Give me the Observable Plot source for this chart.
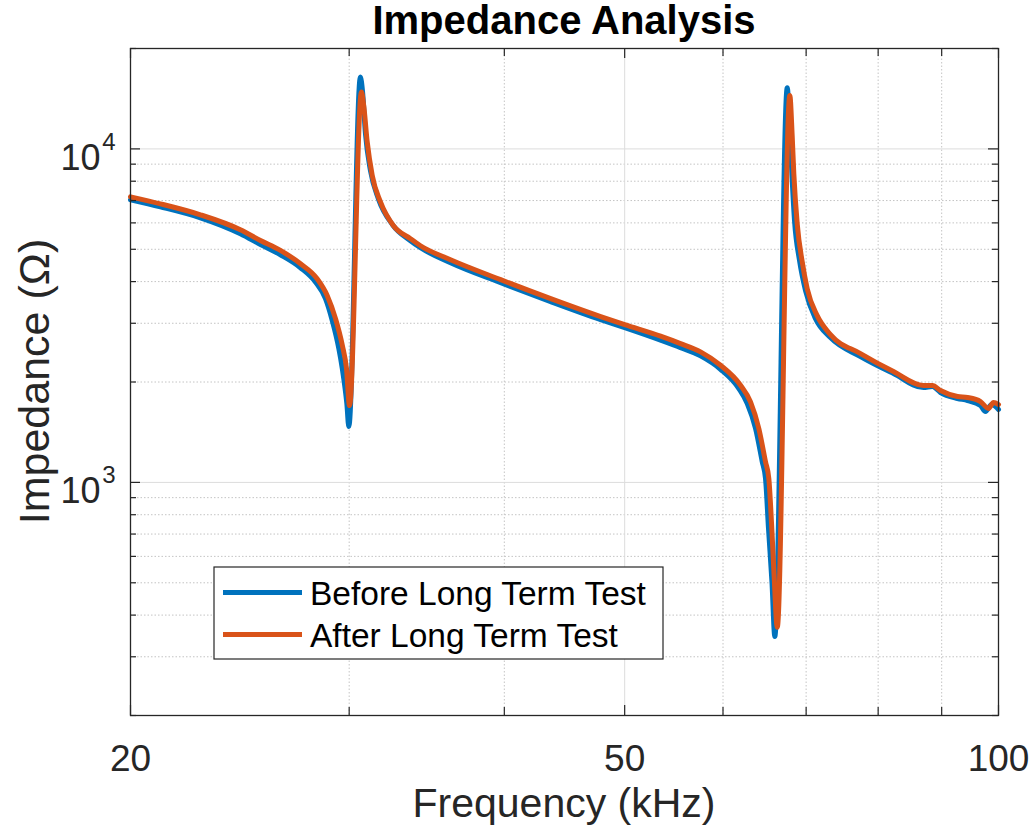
<!DOCTYPE html>
<html>
<head>
<meta charset="utf-8">
<script src="https://cdn.jsdelivr.net/npm/d3@7"></script>
<script src="https://cdn.jsdelivr.net/npm/@observablehq/plot@0.6"></script>
<style>
  html, body { margin: 0; padding: 0; background: white; }
  #chart svg { display: block; }
</style>
</head>
<body>
<div id="chart"></div>
<script>
// ---- data ----
const freqBefore = [20.00, 21.14, 22.77, 24.52, 25.45, 26.41, 27.41, 28.18, 28.71, 29.07, 29.43, 29.62, 29.70, 29.87, 29.98, 30.63, 30.75, 30.92, 31.21, 31.67, 32.51, 33.61, 34.24, 36.20, 39.73, 43.59, 47.82, 50.00, 53.44, 55.45, 57.55, 59.72, 61.79, 62.76, 63.73, 64.52, 64.92, 65.28, 65.71, 66.05, 67.59, 67.88, 68.13, 68.51, 69.15, 69.92, 71.23, 73.23, 77.42, 82.31, 87.02, 88.48, 89.80, 92.68, 94.42, 96.72, 97.62, 98.71, 100.0];
const zBefore = [7035, 6702, 6214, 5566, 5170, 4815, 4403, 3989, 3555, 3061, 2519, 2194, 2048, 1724, 1471, 16430, 14920, 11090, 8594, 7084, 5924, 5304, 5053, 4557, 3970, 3483, 3076, 2912, 2671, 2537, 2395, 2184, 1911, 1724, 1451, 1156, 1028, 728, 498, 345, 15260, 11880, 8834, 6088, 4620, 3757, 3097, 2717, 2384, 2120, 1925, 1938, 1860, 1785, 1760, 1700, 1632, 1712, 1654];

const freqAfter = [20.00, 21.14, 22.77, 24.52, 25.45, 26.41, 27.41, 28.27, 28.80, 29.25, 29.62, 29.85, 30.02, 30.69, 30.82, 31.02, 31.31, 31.79, 32.57, 33.61, 34.24, 36.20, 39.73, 43.59, 47.82, 50.00, 53.44, 55.45, 57.55, 59.72, 61.98, 63.14, 64.12, 64.92, 65.32, 65.65, 65.95, 66.35, 67.91, 68.21, 68.42, 68.85, 69.49, 70.14, 71.45, 73.23, 77.42, 82.31, 87.02, 88.48, 89.80, 92.68, 94.42, 96.72, 98.16, 99.08, 100.0];
const zAfter = [7183, 6843, 6344, 5722, 5314, 4960, 4526, 4081, 3637, 3097, 2577, 2194, 1700, 14815, 13480, 10495, 8320, 6938, 5883, 5377, 5124, 4652, 4053, 3555, 3141, 2972, 2745, 2608, 2462, 2245, 1956, 1744, 1451, 1153, 1028, 754, 534, 368, 14470, 10970, 8416, 5964, 4588, 3809, 3162, 2774, 2433, 2149, 1952, 1952, 1886, 1809, 1797, 1748, 1666, 1736, 1712];

const seriesNames = ["Before Long Term Test", "After Long Term Test"];
const seriesColors = ["#0072BD", "#D95319"];

const xTickValues = [20, 50, 100];
const xTickLabels = ["20", "50", "100"];
const xMinorValues = [30, 40, 60, 70, 80, 90];
const yTickValues = [1000, 10000];
const yTickBase = ["10", "10"];
const yTickExp = ["3", "4"];
const yMinorValues = [200, 300, 400, 500, 600, 700, 800, 900, 2000, 3000, 4000, 5000, 6000, 7000, 8000, 9000, 20000];

const titleText = "Impedance Analysis";
const xLabel = "Frequency (kHz)";
const yLabel = "Impedance (\u03A9)";

// ---- layout ----
const W = 1032, H = 829;
const mL = 130, mR = 34, mT = 48, mB = 114;
const PW = W - mL - mR, PH = H - mT - mB;
const axisColor = "#262626";
const font = "'Liberation Sans', Arial, Helvetica, sans-serif";

const before = freqBefore.map((f, i) => ({f, z: zBefore[i]}));
const after = freqAfter.map((f, i) => ({f, z: zAfter[i]}));

const chart = Plot.plot({
  width: W, height: H,
  marginLeft: mL, marginRight: mR, marginTop: mT, marginBottom: mB,
  style: {fontFamily: font, background: "white", overflow: "visible"},
  x: {type: "log", domain: [20, 100], axis: null},
  y: {type: "log", domain: [200, 20000], axis: null},
  marks: [
    // grid
    Plot.ruleY(yMinorValues, {stroke: "#c4c4c4", strokeWidth: 1, strokeDasharray: "1.5,2"}),
    Plot.ruleX(xMinorValues, {stroke: "#c4c4c4", strokeWidth: 1, strokeDasharray: "1.5,2"}),
    Plot.ruleY(yTickValues, {stroke: "#dcdcdc", strokeWidth: 1}),
    Plot.ruleX(xTickValues, {stroke: "#dcdcdc", strokeWidth: 1}),
    // data
    Plot.line(before, {x: "f", y: "z", stroke: seriesColors[0], strokeWidth: 5, curve: "monotone-x"}),
    Plot.line(after, {x: "f", y: "z", stroke: seriesColors[1], strokeWidth: 5, curve: "monotone-x"}),
    // box
    Plot.frame({stroke: axisColor, strokeWidth: 1.3}),
    // inward ticks: left/right
    Plot.ruleY(yMinorValues, {stroke: axisColor, strokeWidth: 1.2, insetRight: PW - 6}),
    Plot.ruleY(yMinorValues, {stroke: axisColor, strokeWidth: 1.2, insetLeft: PW - 6}),
    Plot.ruleY(yTickValues, {stroke: axisColor, strokeWidth: 1.2, insetRight: PW - 10}),
    Plot.ruleY(yTickValues, {stroke: axisColor, strokeWidth: 1.2, insetLeft: PW - 10}),
    // inward ticks: bottom/top
    Plot.ruleX(xMinorValues, {stroke: axisColor, strokeWidth: 1.2, insetTop: PH - 8}),
    Plot.ruleX(xMinorValues, {stroke: axisColor, strokeWidth: 1.2, insetBottom: PH - 8}),
    Plot.ruleX(xTickValues, {stroke: axisColor, strokeWidth: 1.2, insetTop: PH - 10}),
    Plot.ruleX(xTickValues, {stroke: axisColor, strokeWidth: 1.2, insetBottom: PH - 10}),
    // tick labels
    Plot.text(xTickValues, {x: d => d, text: (d, i) => xTickLabels[i], frameAnchor: "bottom", lineAnchor: "bottom", dy: 55, fontSize: 37, fill: axisColor, textAnchor: "middle"}),
    Plot.text(yTickValues, {y: d => d, text: (d, i) => yTickBase[i], frameAnchor: "left", textAnchor: "end", lineAnchor: "bottom", dx: -30, dy: 21, fontSize: 36, fill: axisColor}),
    Plot.text(yTickValues, {y: d => d, text: (d, i) => yTickExp[i], frameAnchor: "left", textAnchor: "end", lineAnchor: "bottom", dx: -15, dy: 1, fontSize: 24, fill: axisColor})
  ]
});

const svg = d3.select(chart);

// title
svg.append("text")
  .attr("x", mL + PW / 2).attr("y", 34)
  .attr("text-anchor", "middle")
  .attr("font-family", font).attr("font-weight", "bold").attr("font-size", 40)
  .attr("fill", "#000")
  .text(titleText);

// axis labels
svg.append("text")
  .attr("x", mL + PW / 2).attr("y", 817)
  .attr("text-anchor", "middle")
  .attr("font-family", font).attr("font-size", 41)
  .attr("fill", axisColor)
  .text(xLabel);

svg.append("text")
  .attr("transform", `translate(49,${mT + PH / 2}) rotate(-90)`)
  .attr("text-anchor", "middle")
  .attr("font-family", font).attr("font-size", 43)
  .attr("fill", axisColor)
  .text(yLabel);

// legend
const lg = svg.append("g").attr("aria-label", "legend");
lg.append("rect")
  .attr("x", 214).attr("y", 567).attr("width", 449).attr("height", 92)
  .attr("fill", "white").attr("stroke", axisColor).attr("stroke-width", 1.2);
seriesNames.forEach((name, i) => {
  const cy = 592.5 + i * 42;
  lg.append("line")
    .attr("x1", 223).attr("x2", 302).attr("y1", cy).attr("y2", cy)
    .attr("stroke", seriesColors[i]).attr("stroke-width", 5);
  lg.append("text")
    .attr("x", 310).attr("y", cy + 12)
    .attr("text-anchor", "start")
    .attr("font-family", font).attr("font-size", 33.5)
    .attr("fill", "#000")
    .text(name);
});

document.getElementById("chart").appendChild(chart);
</script>
</body>
</html>
